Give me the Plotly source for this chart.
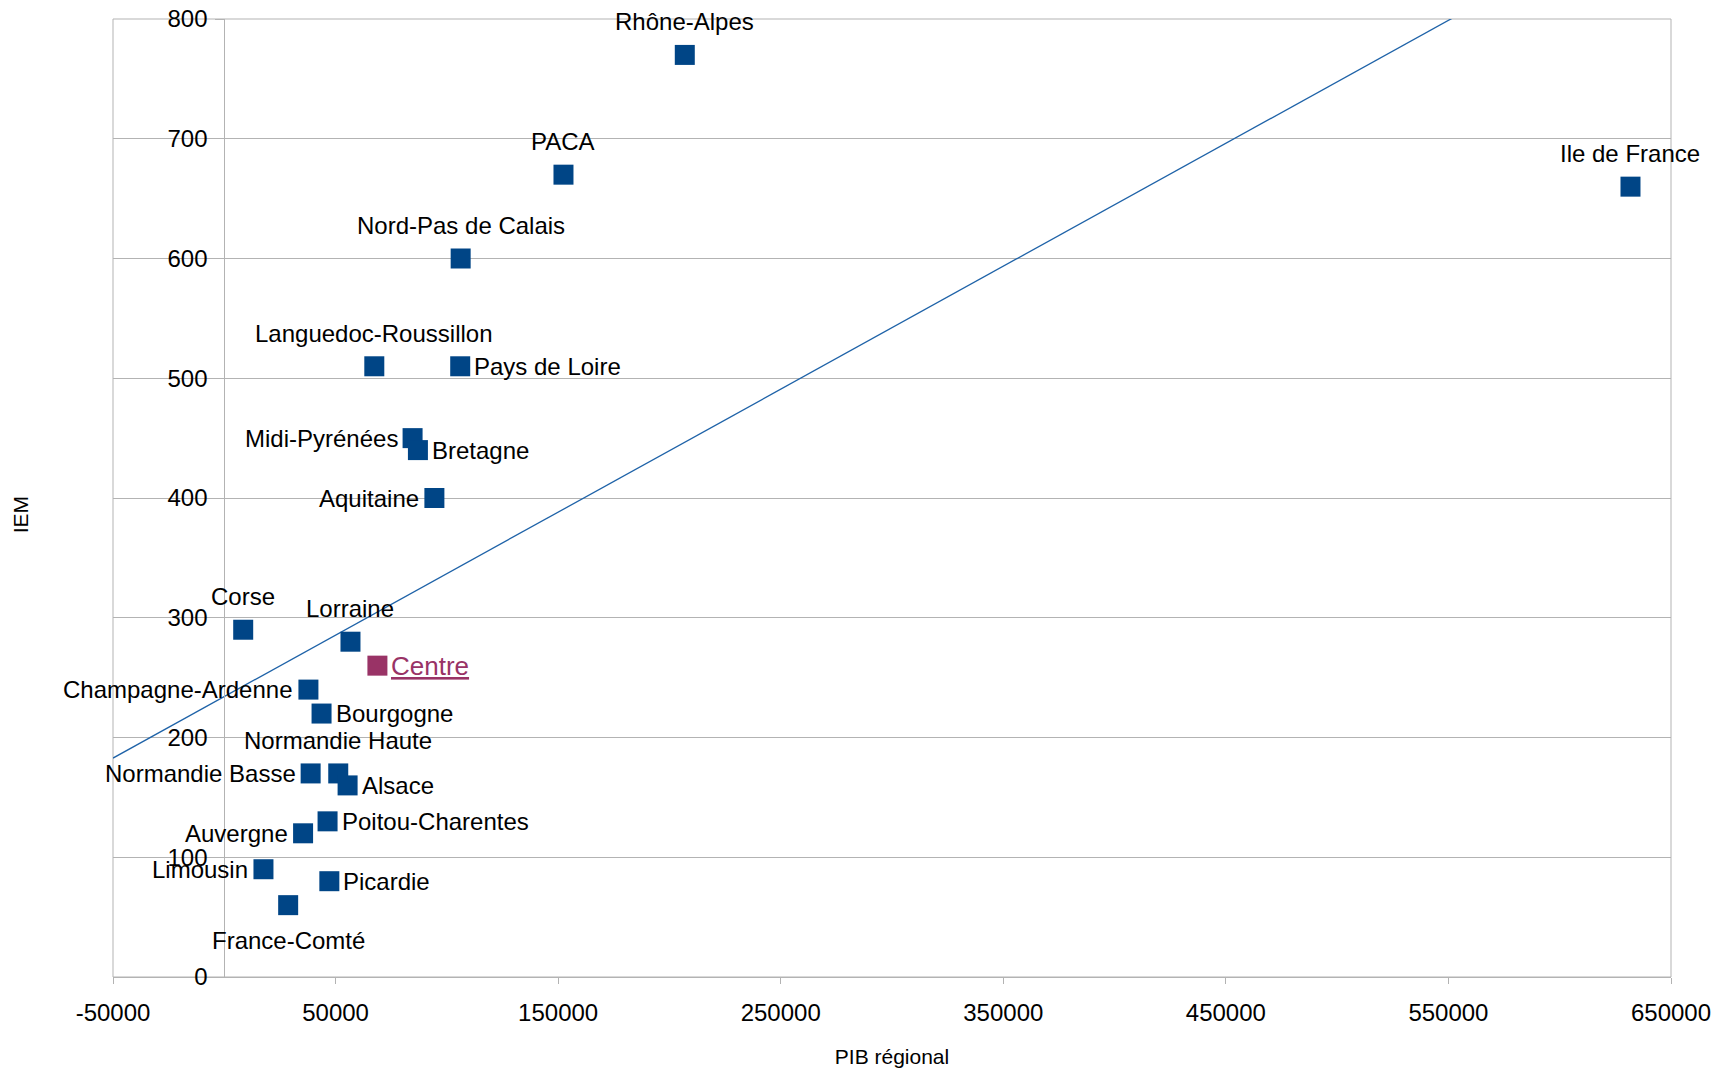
import numpy as np
import plotly.graph_objects as go

# ---- data ----
regions = ["Rhône-Alpes", "PACA", "Nord-Pas de Calais", "Languedoc-Roussillon",
           "Pays de Loire", "Midi-Pyrénées", "Bretagne", "Aquitaine", "Ile de France",
           "Corse", "Lorraine", "Champagne-Ardenne", "Bourgogne",
           "Normandie Basse", "Normandie Haute", "Alsace", "Poitou-Charentes",
           "Auvergne", "Limousin", "Picardie", "France-Comté"]
pib = [206900, 152400, 106200, 67400, 106000, 84600, 87000, 94400, 631800,
       8500, 56700, 37800, 43700, 38800, 51200, 55400, 46400, 35400, 17600,
       47200, 28700]
iem = [770, 670, 600, 510, 510, 450, 440, 400, 660, 290, 280, 240, 220,
       170, 170, 160, 130, 120, 90, 80, 60]

centre_name = ["Centre"]
centre_pib = [68800]
centre_iem = [260]

x_tick_vals = [-50000, 50000, 150000, 250000, 350000, 450000, 550000, 650000]
x_tick_text = ["-50000", "50000", "150000", "250000", "350000", "450000", "550000", "650000"]
y_tick_vals = [0, 100, 200, 300, 400, 500, 600, 700, 800]

# ---- label placement (style) ----
label_side = {
    "Rhône-Alpes": "top", "PACA": "top", "Nord-Pas de Calais": "top",
    "Languedoc-Roussillon": "top", "Pays de Loire": "right",
    "Midi-Pyrénées": "left", "Bretagne": "right", "Aquitaine": "left",
    "Ile de France": "top", "Corse": "top", "Lorraine": "top",
    "Champagne-Ardenne": "left", "Bourgogne": "right",
    "Normandie Basse": "left", "Normandie Haute": "top",
    "Alsace": "right", "Poitou-Charentes": "right", "Auvergne": "left",
    "Limousin": "left", "Picardie": "right", "France-Comté": "bottom",
}
SIDE_STYLE = {
    "top": dict(xanchor="center", yanchor="middle", xshift=0, yshift=33),
    "bottom": dict(xanchor="center", yanchor="middle", xshift=0, yshift=-35),
    "right": dict(xanchor="left", yanchor="middle", xshift=13, yshift=0),
    "left": dict(xanchor="right", yanchor="middle", xshift=-14, yshift=0),
}

FONT = "Liberation Sans, Arial, sans-serif"
BLUE = "#004586"
CENTRE_COL = "#993366"
GRID = "#b3b3b3"
XMIN, XMAX = -50000, 650000

# linear trend line over all points
all_x = np.array(pib + centre_pib, dtype=float)
all_y = np.array(iem + centre_iem, dtype=float)
slope, intercept = np.polyfit(all_x, all_y, 1)
trend_x = np.array([XMIN, XMAX], dtype=float)
trend_y = slope * trend_x + intercept

fig = go.Figure()
fig.add_trace(go.Scatter(x=trend_x, y=trend_y, mode="lines",
                         line=dict(color="#1f63a8", width=1.3),
                         hoverinfo="skip", showlegend=False))
fig.add_trace(go.Scatter(x=pib, y=iem, mode="markers", text=regions,
                         marker=dict(symbol="square", size=20, color=BLUE,
                                     line=dict(width=0)),
                         cliponaxis=False, showlegend=False))
fig.add_trace(go.Scatter(x=centre_pib, y=centre_iem, mode="markers",
                         text=centre_name,
                         marker=dict(symbol="square", size=20, color=CENTRE_COL,
                                     line=dict(width=0)),
                         cliponaxis=False, showlegend=False))

annotations = []
for name, xv, yv in zip(regions, pib, iem):
    st = SIDE_STYLE[label_side[name]]
    annotations.append(dict(x=xv, y=yv, xref="x", yref="y", text=name,
                            showarrow=False, borderpad=0,
                            font=dict(family=FONT, size=24, color="black"), **st))
for name, xv, yv in zip(centre_name, centre_pib, centre_iem):
    st = SIDE_STYLE["right"]
    annotations.append(dict(x=xv, y=yv, xref="x", yref="y", text="<u>" + name + "</u>",
                            showarrow=False, borderpad=0,
                            font=dict(family=FONT, size=26, color=CENTRE_COL), **st))

annotations.append(dict(text="IEM", xref="paper", yref="paper", x=-0.0597, y=0.483,
                        xanchor="center", yanchor="middle",
                        textangle=-90, showarrow=False,
                        font=dict(family=FONT, size=21, color="black")))

fig.update_layout(
    width=1716, height=1073,
    margin=dict(l=113, r=45, t=19, b=96),
    paper_bgcolor="white", plot_bgcolor="white",
    font=dict(family=FONT, size=24, color="black"),
    xaxis=dict(range=[XMIN, XMAX], tickvals=x_tick_vals, ticktext=x_tick_text,
               showgrid=False, zeroline=False, showline=True, linecolor=GRID,
               linewidth=1, ticks="outside", ticklen=6, tickcolor=GRID,
               ticklabelstandoff=8, ticklabeloverflow="allow",
               tickfont=dict(family=FONT, size=24, color="black"),
               title=dict(text="PIB régional", font=dict(family=FONT, size=21),
                          standoff=24),
               automargin=False),
    yaxis=dict(range=[0, 800], tickvals=y_tick_vals, anchor="free",
               position=(0 - XMIN) / (XMAX - XMIN),
               showgrid=True, gridcolor=GRID, gridwidth=1, zeroline=False,
               showline=True, linecolor=GRID, linewidth=1,
               ticks="outside", ticklen=9, tickcolor=GRID,
               ticklabelstandoff=3, ticklabeloverflow="allow",
               tickfont=dict(family=FONT, size=24, color="black"),
               automargin=False),
    shapes=[dict(type="rect", xref="paper", yref="paper", x0=0, x1=1, y0=0, y1=1,
                 line=dict(color=GRID, width=1), layer="below")],
    annotations=annotations,
)

# remove the default page margin / scrollbars so the figure fills the window exactly
page_fix = ("document.documentElement.style.margin='0';"
            "document.documentElement.style.overflow='hidden';"
            "document.body.style.margin='0';"
            "document.body.style.overflow='hidden';")

fig.write_html("out.html", post_script=page_fix,
               config={"displayModeBar": False, "staticPlot": True})
